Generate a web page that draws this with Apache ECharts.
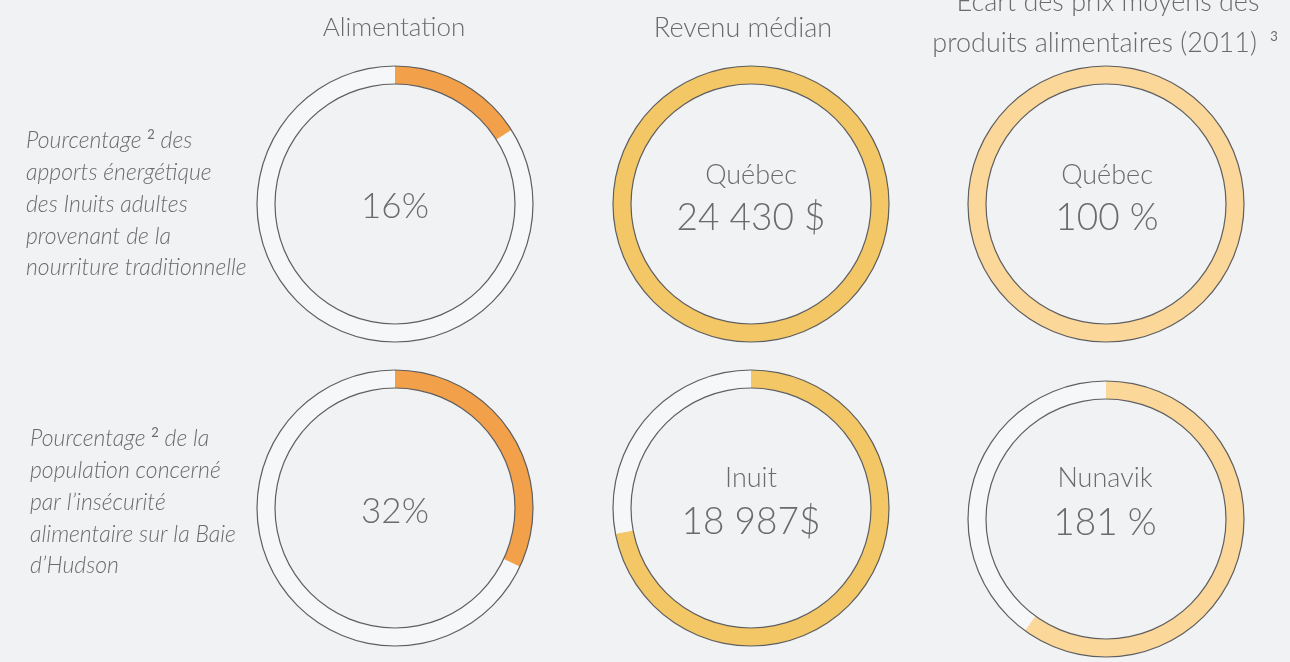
<!DOCTYPE html>
<html>
<head>
<meta charset="utf-8">
<script src="https://cdn.jsdelivr.net/npm/echarts@6/dist/echarts.min.js"></script>
<style>
  html, body { margin: 0; padding: 0; background: #f1f2f4; }
  #main { width: 1290px; height: 662px; }
</style>
</head>
<body>
<div id="main"></div>
<script>
'use strict';

// données
var colTitles = ['Alimentation', 'Revenu médian', 'Écart des prix moyens des'];
var alimentationPct = [16, 32];            // part de l'anneau remplie
var revenuLabels = ['Québec', 'Inuit'];
var revenuTexts = ['24 430 $', '18 987$'];
var revenuArcPct = [100, 72];
var ecartLabels = ['Québec', 'Nunavik'];
var ecartTexts = ['100 %', '181 %'];
var ecartArcPct = [100, 60];

var FONT = 'Lato';
var TXT = '#6b6b6d';
var colX = [395, 751, 1106];
var rowY = [[204, 508], [204, 508], [204, 519]];
var textY = [[175, 218], [478, 522]];   // libellé / valeur
var colColors = ['#f3a04a', '#f4c766', '#fbd79a'];
var arcs = [alimentationPct, revenuArcPct, ecartArcPct];

var chart = echarts.init(document.getElementById('main'));
var series = [];
var graphic = [];

for (var c = 0; c < 3; c++) {
    for (var r = 0; r < 2; r++) {
        var ctr = [colX[c], rowY[c][r]];
        var v = arcs[c][r];
        series.push({
            type: 'pie', silent: true, center: ctr, radius: [120, 138],
            startAngle: 90, clockwise: true, label: {show: false}, labelLine: {show: false},
            emphasis: {disabled: true}, animation: false,
            data: [
                {value: v, itemStyle: {color: colColors[c]}},
                {value: 100 - v, itemStyle: {color: '#f6f7f8'}}
            ]
        });
        // contours fins
        [[137.4, 138.6], [119.4, 120.6]].forEach(function (rad) {
            series.push({
                type: 'pie', silent: true, center: ctr, radius: rad,
                label: {show: false}, labelLine: {show: false}, animation: false,
                emphasis: {disabled: true},
                data: [{value: 1, itemStyle: {color: '#5f5f60'}}]
            });
        });
    }
}

// textes au centre
function centerText(x, y, text, size) {
    graphic.push({
        type: 'text', x: x, y: y, silent: true,
        style: {text: text, fontFamily: FONT, fontWeight: 300, fontSize: size, fill: TXT,
            align: 'center', verticalAlign: 'middle'}
    });
}
centerText(colX[0], rowY[0][0] + 3, alimentationPct[0] + '%', 35);
centerText(colX[0], rowY[0][1] + 4, alimentationPct[1] + '%', 35);
for (var r2 = 0; r2 < 2; r2++) {
    centerText(colX[1], textY[r2][0], revenuLabels[r2], 27);
    centerText(colX[1], textY[r2][1], revenuTexts[r2], 37);
    centerText(colX[2] + (r2 ? -1 : 1), textY[r2][0], ecartLabels[r2], 27);
    centerText(colX[2] + (r2 ? -1 : 1), textY[r2][1] + r2, ecartTexts[r2], 37);
}

// titres de colonnes
graphic.push({type: 'text', x: 394, y: 28, style: {text: colTitles[0], fontFamily: FONT, fontWeight: 300,
    fontSize: 26, fill: TXT, align: 'center', verticalAlign: 'middle'}});
graphic.push({type: 'text', x: 743, y: 28, style: {text: colTitles[1], fontFamily: FONT, fontWeight: 300,
    fontSize: 27, fill: TXT, align: 'center', verticalAlign: 'middle'}});
graphic.push({type: 'text', x: 1108, y: 2, style: {text: colTitles[2], fontFamily: FONT, fontWeight: 300,
    fontSize: 27, fill: TXT, align: 'center', verticalAlign: 'middle'}});
graphic.push({type: 'text', x: 1105, y: 43, style: {
    text: 'produits alimentaires (2011) {sup|3}', fontFamily: FONT, fontWeight: 300,
    fontSize: 27, fill: TXT, align: 'center', verticalAlign: 'middle',
    rich: {sup: {fontSize: 13, fontFamily: FONT, fill: TXT, padding: [0, 0, 12, 6]}}}});

// textes à gauche
var leftRows = [
    {x: 26, y: 141, lines: ['Pourcentage {sup|2} des', 'apports énergétique', 'des Inuits adultes',
        'provenant de la', 'nourriture traditionnelle']},
    {x: 30, y: 439, lines: ['Pourcentage {sup|2} de la', 'population concerné', 'par l’insécurité',
        'alimentaire sur la Baie', 'd’Hudson']}
];
leftRows.forEach(function (blk) {
    blk.lines.forEach(function (ln, i) {
        graphic.push({type: 'text', x: blk.x, y: blk.y + i * 31.75, style: {
            text: ln, fontFamily: FONT, fontWeight: 300, fontStyle: 'italic', fontSize: 23,
            fill: TXT, align: 'left', verticalAlign: 'middle',
            rich: {sup: {fontSize: 13, fontFamily: FONT, fontStyle: 'normal', fill: TXT, padding: [0, 0, 12, 0]}}}});
    });
});

chart.setOption({
    backgroundColor: '#f1f2f4',
    series: series,
    graphic: graphic
});
</script>
</body>
</html>
